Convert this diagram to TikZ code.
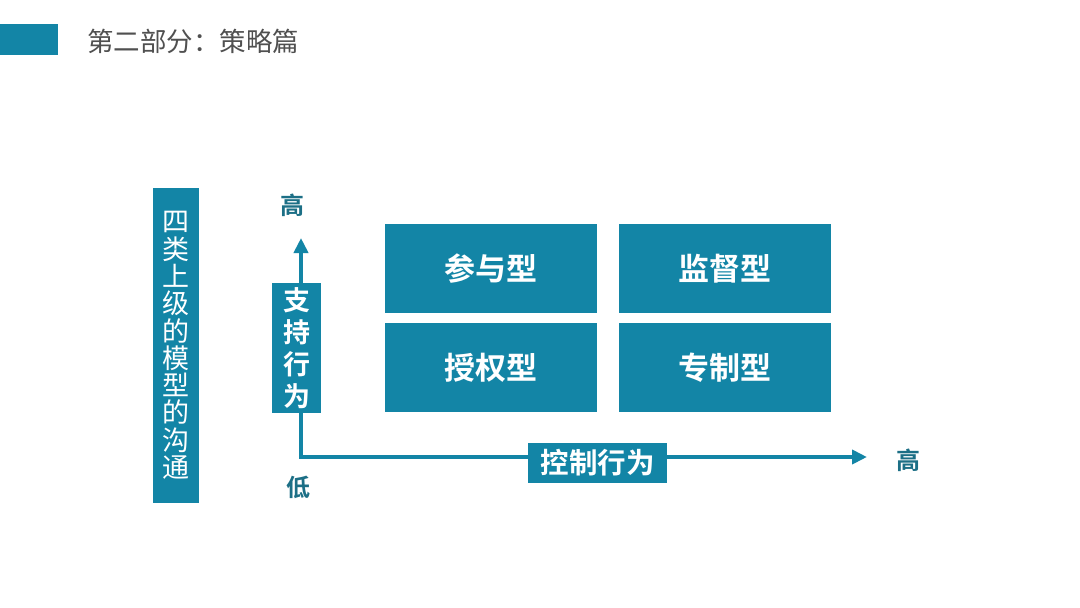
\documentclass[tikz,border=0pt]{standalone}
\usepackage{fontspec}
\newfontfamily\cjk{Noto Sans CJK SC}
\newfontfamily\cjkbold{Noto Sans CJK SC Bold}
\definecolor{slideteal}{HTML}{1385A6}
\definecolor{darkteal}{HTML}{1C6F86}
\definecolor{titlegray}{HTML}{505050}
\usetikzlibrary{arrows.meta, positioning, calc}

\begin{document}
\begin{tikzpicture}[
    x=1pt, y=-1pt,
    axis/.style={
        -{Triangle[length=15pt, width=14pt]},
        slideteal, line width=4pt,
    },
    quadbox/.style={
        rectangle, fill=slideteal, text=white,
        minimum width=212pt, minimum height=89pt, inner sep=0pt,
        font=\cjkbold\fontsize{31}{33}\selectfont,
    },
    axislabel/.style={
        rectangle, fill=slideteal, text=white, inner sep=0pt,
        align=center, font=\cjkbold\fontsize{27}{32}\selectfont,
    },
    endlabel/.style={
        text=darkteal, inner sep=0pt,
        font=\cjkbold\fontsize{24}{26}\selectfont,
    },
]
\useasboundingbox (0,0) rectangle (1080,608);
\fill[white] (0,0) rectangle (1080,608);

% -- Header --
\node[fill=slideteal, minimum width=58pt, minimum height=31pt,
    inner sep=0pt, anchor=north west] (hbar) at (0,24) {};
\node[text=titlegray, font=\cjk\fontsize{26.5}{28}\selectfont,
    inner sep=0pt, anchor=west] (htitle) at (87,41) {第二部分：策略篇};

% -- Side caption --
\node[fill=slideteal, text=white, minimum width=46pt, minimum height=315pt,
    inner sep=0pt, align=center, font=\cjk\fontsize{27}{27.3}\selectfont]
    (side) at (176,345.5)
    {四\\类\\上\\级\\的\\模\\型\\的\\沟\\通};

% -- Axes --
\coordinate (orig) at (301,457);
\coordinate (ytop) at (301,238);
\coordinate (xend) at (867,457);
\draw[axis] ([yshift=2pt]orig) -- (ytop);
\draw[axis] ([xshift=-2pt]orig) -- (xend);

\node[axislabel, minimum width=49pt, minimum height=130pt] (ylab)
    at (296.5,348) {支\\持\\行\\为};
\node[axislabel, minimum width=139pt, minimum height=40pt,
    font=\cjkbold\fontsize{28.5}{30}\selectfont] (xlab)
    at (597.5,463) {控制行为};

\node[endlabel] (yhigh) at (292,205) {高};
\node[endlabel] (ylow) at (298,487) {低};
\node[endlabel] (xhigh) at (908,460) {高};

% -- Quadrants --
\node[quadbox] (q1) at (491,268.5) {参与型};
\node[quadbox, right=22pt of q1] (q2) {监督型};
\node[quadbox, below=10pt of q1] (q3) {授权型};
\node[quadbox, below=10pt of q2] (q4) {专制型};

\end{tikzpicture}
\end{document}
